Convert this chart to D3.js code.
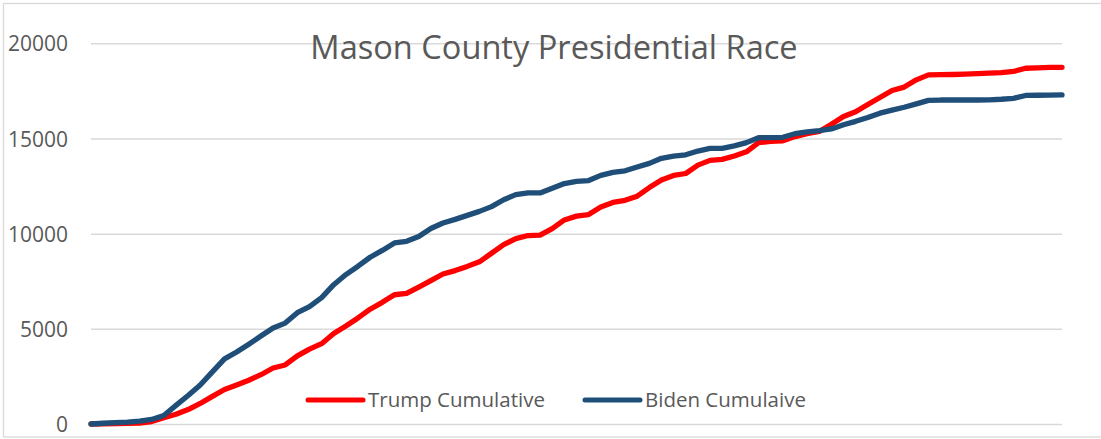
<!DOCTYPE html>
<html>
<head>
<meta charset="utf-8">
<script src="https://cdn.jsdelivr.net/npm/d3@7"></script>
<style>
  html, body { margin: 0; padding: 0; background: #fff; }
  svg { display: block; }
</style>
</head>
<body>
<svg id="chart" width="1101" height="439"></svg>
<script>
const title = "Mason County Presidential Race";
const seriesNames = ["Trump Cumulative", "Biden Cumulaive"];
const yTicks = [0, 5000, 10000, 15000, 20000];

const trump = [0, 10, 20, 35, 50, 130, 330, 510, 760, 1080,
  1450, 1810, 2050, 2300, 2590, 2940, 3100, 3580, 3930, 4220,
  4750, 5150, 5570, 6030, 6390, 6790, 6860, 7190, 7530, 7880,
  8060, 8280, 8520, 8970, 9420, 9740, 9900, 9920, 10260, 10720,
  10920, 11000, 11400, 11640, 11750, 11970, 12420, 12820, 13060, 13160,
  13600, 13850, 13900, 14080, 14300, 14780, 14850, 14880, 15100, 15250,
  15370, 15750, 16150, 16400, 16780, 17150, 17520, 17700, 18080, 18340,
  18350, 18360, 18380, 18410, 18430, 18460, 18520, 18690, 18710, 18730, 18740];

const biden = [0, 40, 70, 100, 150, 240, 450, 980, 1500, 2050,
  2740, 3420, 3780, 4190, 4620, 5040, 5300, 5850, 6170, 6640,
  7320, 7850, 8290, 8760, 9120, 9510, 9600, 9850, 10270, 10560,
  10750, 10960, 11170, 11420, 11780, 12050, 12140, 12140, 12380, 12630,
  12750, 12790, 13060, 13220, 13300, 13500, 13690, 13960, 14070, 14140,
  14340, 14480, 14480, 14610, 14780, 15040, 15040, 15060, 15250, 15350,
  15410, 15500, 15720, 15900, 16100, 16330, 16490, 16640, 16820, 17000,
  17020, 17020, 17020, 17020, 17030, 17060, 17110, 17260, 17270, 17280, 17290];

const colors = ["#FF0000", "#1F4E79"];
const textColor = "#595959";
const gridColor = "#D9D9D9";
const fontFam = "'Open Sans', 'DejaVu Sans', sans-serif";

const svg = d3.select("#chart");

// chart border
svg.append("rect")
  .attr("x", 3.5).attr("y", 3.5)
  .attr("width", 1100).attr("height", 433.5)
  .attr("fill", "#fff")
  .attr("stroke", gridColor).attr("stroke-width", 1.3);

const plotLeft = 91, plotRight = 1062, plotTop = 43.3, plotBottom = 424;

const x = d3.scaleLinear().domain([0, trump.length - 1]).range([plotLeft, plotRight]);
const y = d3.scaleLinear().domain([0, 20000]).range([plotBottom, plotTop]);

// y axis with gridlines
const yAxis = d3.axisLeft(y)
  .tickValues(yTicks)
  .tickSize(-(plotRight - plotLeft))
  .tickPadding(23)
  .tickFormat(d3.format("d"));

const gAxis = svg.append("g")
  .attr("transform", `translate(${plotLeft},0)`)
  .call(yAxis);
gAxis.select(".domain").remove();
gAxis.selectAll(".tick line")
  .attr("stroke", gridColor)
  .attr("stroke-width", 1.5);
gAxis.selectAll(".tick text")
  .attr("fill", textColor)
  .attr("font-family", fontFam)
  .attr("font-size", 21)
  .attr("dy", "0.36em");

// title
svg.append("text")
  .attr("x", 554).attr("y", 59)
  .attr("text-anchor", "middle")
  .attr("font-family", fontFam)
  .attr("font-size", 32.6)
  .attr("fill", textColor)
  .text(title);

// lines
const line = d3.line()
  .x((d, i) => x(i))
  .y(d => y(d));

[trump, biden].forEach((s, k) => {
  svg.append("path")
    .datum(s)
    .attr("fill", "none")
    .attr("stroke", colors[k])
    .attr("stroke-width", 5.3)
    .attr("stroke-linejoin", "round")
    .attr("stroke-linecap", "round")
    .attr("d", line);
});

// legend
const legendX = [308, 585];
const leg = svg.append("g");
seriesNames.forEach((name, k) => {
  leg.append("line")
    .attr("x1", legendX[k]).attr("x2", legendX[k] + 55)
    .attr("y1", 400).attr("y2", 400)
    .attr("stroke", colors[k])
    .attr("stroke-width", 5)
    .attr("stroke-linecap", "round");
  leg.append("text")
    .attr("x", legendX[k] + 60).attr("y", 407)
    .attr("font-family", fontFam)
    .attr("font-size", 20.5)
    .attr("fill", textColor)
    .text(name);
});
</script>
</body>
</html>
